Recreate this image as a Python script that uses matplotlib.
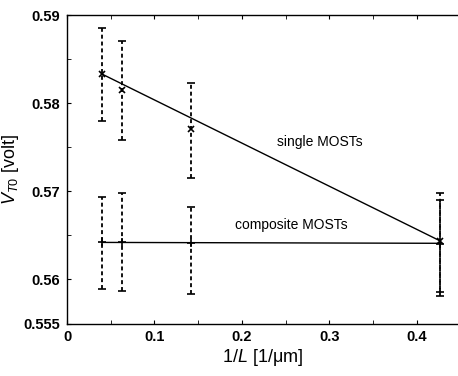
import numpy as np
import matplotlib
matplotlib.use("Agg")
import matplotlib.pyplot as plt
from matplotlib.ticker import MultipleLocator

plt.rcParams['font.family'] = ['Liberation Sans', 'DejaVu Sans']
plt.rcParams['mathtext.fontset'] = 'custom'
plt.rcParams['mathtext.it'] = 'Liberation Sans:italic'
plt.rcParams['mathtext.rm'] = 'Liberation Sans'

# 1/L values [1/um]
inv_L = [0.04, 0.0625, 0.142, 0.426]

# single MOSTs
single_v = [0.5833, 0.5815, 0.5771, 0.5644]
single_hi = [0.5885, 0.5870, 0.5823, 0.5698]
single_lo = [0.5780, 0.5758, 0.5715, 0.5586]
single_fit = [0.5833, 0.5644]   # fitted line at first / last 1/L

# composite MOSTs
comp_v = [0.5642, 0.5642, 0.5641, 0.5640]
comp_hi = [0.5694, 0.5698, 0.5682, 0.5690]
comp_lo = [0.5589, 0.5587, 0.5583, 0.5581]
comp_fit = [0.5642, 0.5641]

x_ticks = [0, 0.1, 0.2, 0.3, 0.4]
y_ticks = [0.555, 0.56, 0.57, 0.58, 0.59]

fig = plt.figure(figsize=(4.58, 3.76), dpi=100)
ax = fig.add_axes([0.1463, 0.1396, 0.8537, 0.8205])

x = np.array(inv_L)
dash = (0, (2.2, 1.6))

def bars(v, hi, lo, marker, ms):
    v = np.array(v)
    err = [v - np.array(lo), np.array(hi) - v]
    eb = ax.errorbar(x, v, yerr=err, fmt='none', ecolor='black', elinewidth=1.3,
                     capsize=3, capthick=1.2)
    eb[2][0].set_linestyle(dash)
    ax.plot(x, v, linestyle='none', marker=marker, color='black', ms=ms, mew=1.2)

bars(single_v, single_hi, single_lo, 'x', 5)
bars(comp_v, comp_hi, comp_lo, '+', 6)

ax.plot([x[0], x[-1]], single_fit, color='black', lw=1.0)
ax.plot([x[0], x[-1]], comp_fit, color='black', lw=1.0)

ax.text(0.289, 0.5756, 'single MOSTs', ha='center', va='center', fontsize=10)
ax.text(0.257, 0.5662, 'composite MOSTs', ha='center', va='center', fontsize=10)

ax.set_xlim(0, 0.447)
ax.set_ylim(0.555, 0.59)
ax.set_xticks(x_ticks)
ax.set_xticklabels(['0', '0.1', '0.2', '0.3', '0.4'])
ax.set_yticks(y_ticks)
ax.set_yticklabels(['0.555', '0.56', '0.57', '0.58', '0.59'])
ax.xaxis.set_minor_locator(MultipleLocator(0.05))
ax.yaxis.set_minor_locator(MultipleLocator(0.005))
ax.tick_params(which='both', direction='in', top=True, right=False,
               labelsize=10.5, pad=5)
ax.tick_params(which='major', length=3)
ax.tick_params(which='minor', length=3)
for lab in ax.get_xticklabels() + ax.get_yticklabels():
    lab.set_fontweight('bold')
ax.spines['right'].set_visible(False)
for s in ['left', 'top', 'bottom']:
    ax.spines[s].set_linewidth(1.0)

ax.set_xlabel('1/$\\mathit{L}$ [1/$\\mathrm{\\mu}$m]', fontsize=13, labelpad=2)
ax.set_ylabel('$\\mathit{V}_{\\mathit{T0}}$ [volt]', fontsize=13, labelpad=2)

fig.savefig('out.png', dpi=100)
